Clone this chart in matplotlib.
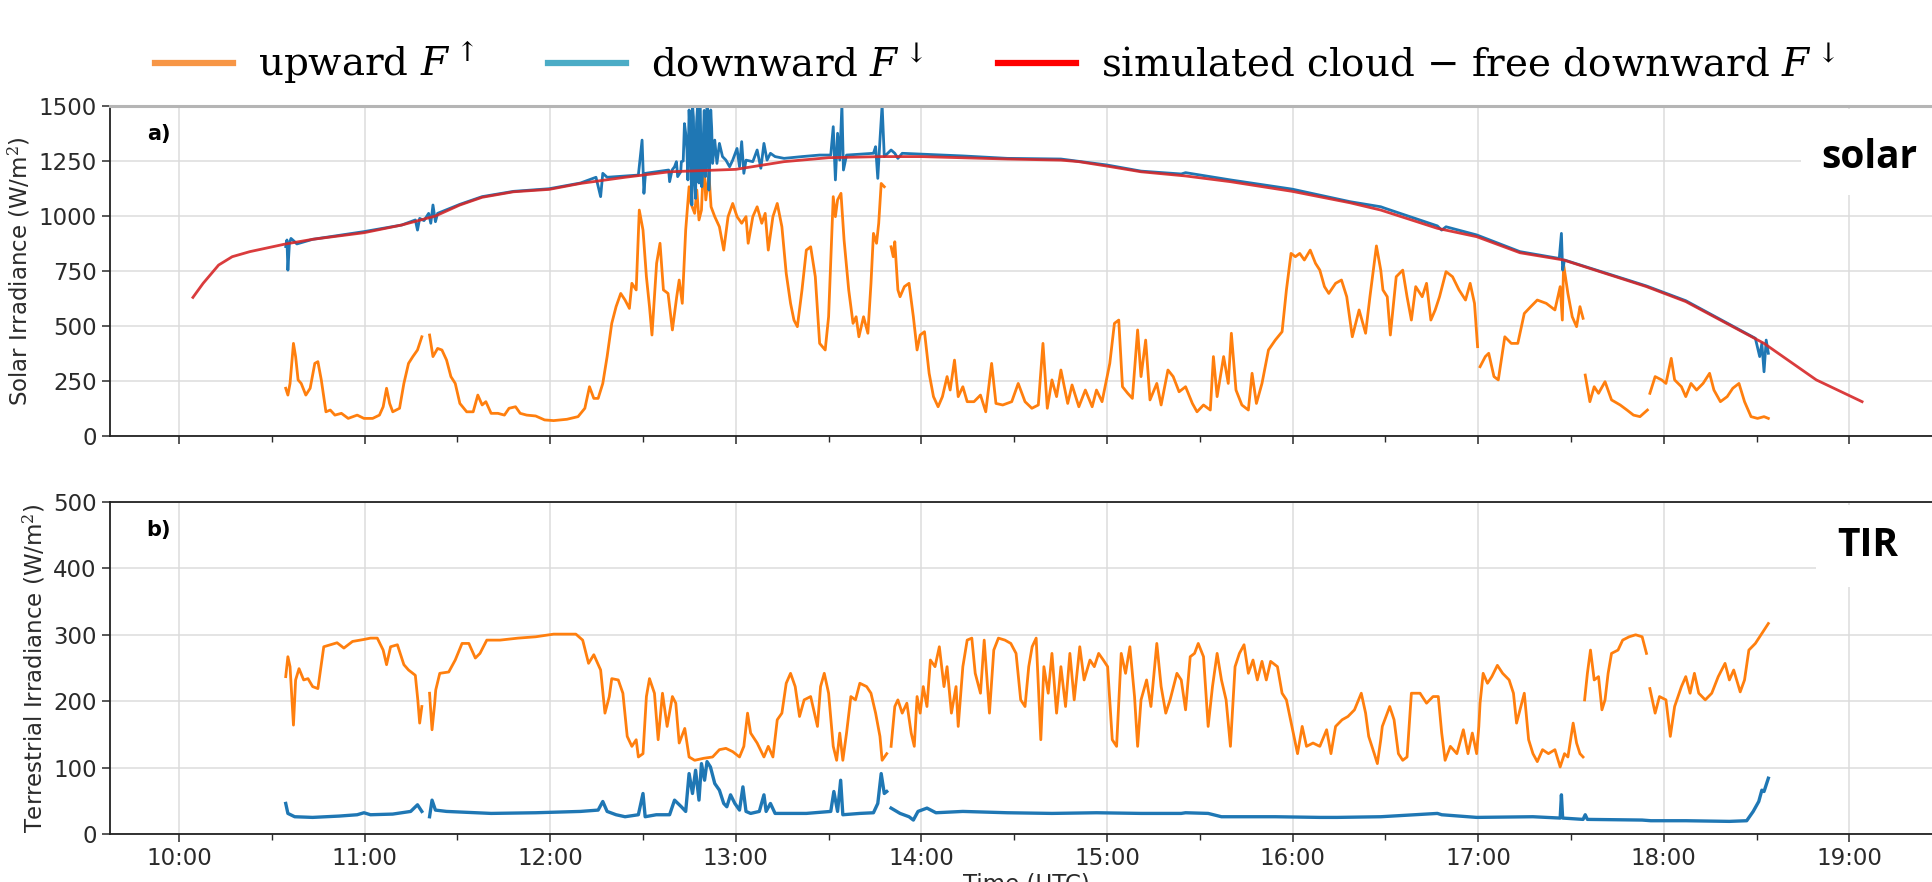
import numpy as np
import matplotlib

matplotlib.use("Agg")
import matplotlib.pyplot as plt
from matplotlib.lines import Line2D
from matplotlib.patches import Rectangle
from matplotlib.ticker import FixedLocator, FuncFormatter

nan = np.nan

# (minutes after 10:00 UTC, W/m^2); nan marks a gap in the record
sw_clear = [(4.5, 630), (7.8, 694), (12.8, 777), (17.2, 815), (22.9, 838), (34.5, 873), (43.2, 894),
            (59.8, 924), (72.0, 959), (82.9, 1000), (90.8, 1050), (98.0, 1085), (108.1, 1110),
            (119.7, 1121), (129.8, 1148), (144.2, 1176), (158.6, 1201), (180.0, 1212), (195.6, 1247),
            (210.0, 1265), (227.3, 1270), (240.0, 1270), (267.8, 1259), (285.1, 1254), (290.9, 1247),
            (299.9, 1227), (311.0, 1201), (325.4, 1182), (339.9, 1156), (359.9, 1112), (378.6, 1060),
            (388.5, 1027), (406.8, 944), (419.5, 906), (433.5, 833), (447.6, 800), (474.4, 679),
            (487.1, 611), (512.4, 421), (529.3, 255), (544.1, 156)]

sw_down = [(34.5, 861), (34.9, 891), (35.2, 754), (35.7, 876), (36.2, 898), (37.4, 883), (38.1, 873),
           (43.2, 894), (59.8, 929), (72.0, 959), (76.4, 982), (77.1, 936), (77.8, 989), (79.2, 979),
           (80.7, 1012), (81.4, 967), (82.1, 1050), (82.9, 974), (83.6, 1012), (90.8, 1053), (98.0, 1088),
           (108.1, 1112), (119.7, 1124), (129.8, 1150), (134.8, 1176), (136.3, 1088), (137.0, 1194),
           (138.4, 1176), (144.2, 1182), (148.5, 1186), (149.7, 1345), (150.3, 1103), (150.8, 1194),
           (154.3, 1201), (158.3, 1209), (158.6, 1156), (159.4, 1209), (160.2, 1224), (160.8, 1247),
           (161.2, 1179), (162.2, 1201), (162.4, 1247), (163.0, 1250), (163.4, 1420), (163.8, 1376),
           (164.2, 1300), (164.5, 1164), (164.9, 1482), (165.2, 1380), (165.5, 1209), (165.8, 1050),
           (166.0, 1504), (166.3, 1450), (166.7, 1148), (167.0, 1080), (167.3, 1421), (167.6, 1490),
           (167.8, 1239), (168.1, 1150), (168.4, 1504), (168.7, 1350), (169.0, 1133), (169.3, 1200),
           (169.6, 1406), (169.8, 1480), (170.2, 1179), (170.5, 1300), (170.7, 1504), (171.0, 1450),
           (171.3, 1118), (171.6, 1250), (171.9, 1482), (172.2, 1400), (172.5, 1239), (173.2, 1345),
           (173.9, 1239), (174.7, 1330), (175.7, 1270), (176.8, 1254), (178.0, 1224), (179.0, 1254),
           (180.4, 1307), (181.2, 1224), (181.9, 1338), (182.6, 1194), (183.3, 1254), (185.5, 1247),
           (186.9, 1300), (188.1, 1217), (189.1, 1330), (190.1, 1254), (191.2, 1285), (192.7, 1270),
           (195.6, 1262), (201.4, 1270), (207.1, 1277), (210.7, 1277), (211.5, 1406), (212.2, 1164),
           (212.9, 1376), (213.6, 1254), (214.3, 1504), (214.8, 1209), (215.8, 1277), (224.5, 1285),
           (225.2, 1315), (225.9, 1171), (226.6, 1345), (227.3, 1504), (228.0, 1270), (230.2, 1300),
           (231.4, 1285), (232.4, 1262), (233.8, 1285), (238.9, 1282), (253.4, 1273), (267.8, 1262),
           (285.1, 1259), (299.9, 1232), (311.0, 1204), (324.0, 1191), (325.4, 1197), (339.9, 1164),
           (359.9, 1122), (378.6, 1065), (388.5, 1042), (389.9, 1035), (406.8, 955), (408.2, 936),
           (409.6, 951), (419.5, 914), (433.5, 838), (446.2, 807), (446.9, 921), (447.3, 754),
           (447.9, 800), (474.4, 682), (487.1, 615), (509.6, 444), (511.0, 361), (511.7, 421),
           (512.4, 292), (513.1, 436), (513.8, 376)]

sw_up = [(34.5, 217), (35.2, 186), (35.9, 239), (37.0, 421), (37.7, 361), (38.5, 255), (39.5, 239),
         (41.0, 186), (42.4, 217), (43.9, 330), (44.9, 338), (46.0, 255), (47.5, 110), (48.9, 118),
         (50.4, 95), (52.5, 103), (54.7, 80), (57.6, 95), (59.8, 80), (62.6, 80), (64.8, 95), (66.0, 133),
         (67.1, 217), (68.1, 148), (69.1, 110), (71.3, 126), (72.7, 239), (74.2, 330), (75.6, 361),
         (77.1, 391), (78.5, 451), (79.8, nan), (81.0, 459), (82.1, 361), (83.6, 398), (85.0, 391),
         (86.5, 345), (87.9, 270), (89.3, 239), (90.8, 148), (93.0, 110), (95.1, 110), (96.6, 186),
         (98.0, 141), (99.2, 156), (100.9, 103), (103.1, 103), (105.2, 95), (106.7, 126), (108.8, 133),
         (110.3, 103), (112.4, 95), (115.3, 91), (118.2, 73), (121.1, 70), (125.4, 76), (129.0, 88),
         (131.2, 126), (132.7, 224), (134.1, 171), (135.5, 171), (137.0, 239), (138.4, 361), (139.9, 512),
         (141.3, 588), (142.8, 648), (144.2, 618), (145.6, 580), (146.4, 694), (147.8, 664), (148.8, 1027),
         (150.0, 936), (151.1, 724), (152.1, 588), (152.9, 459), (154.4, 785), (155.5, 876), (156.6, 664),
         (158.1, 648), (159.5, 482), (160.9, 633), (161.7, 709), (162.7, 603), (163.8, 936), (164.9, 1133),
         (165.5, 1057), (166.7, 1012), (167.4, 1118), (168.1, 982), (168.9, 1027), (169.6, 1254),
         (170.3, 1073), (171.3, 1194), (172.0, 1042), (173.2, 997), (174.7, 951), (176.1, 845),
         (177.5, 997), (179.0, 1057), (180.4, 997), (181.9, 967), (183.3, 997), (184.0, 876), (185.5, 997),
         (186.9, 1042), (188.4, 967), (189.5, 1012), (190.5, 845), (192.0, 997), (193.4, 1057), (194.9, 951),
         (196.3, 739), (197.7, 603), (198.8, 527), (199.9, 497), (201.4, 664), (202.8, 845), (204.2, 860),
         (205.7, 724), (207.1, 421), (208.9, 391), (210.0, 542), (211.5, 1088), (212.2, 997), (212.9, 1073),
         (214.0, 1103), (215.0, 891), (216.5, 664), (217.9, 512), (218.9, 542), (219.8, 451), (221.3, 542),
         (222.7, 467), (223.7, 694), (224.5, 921), (225.5, 876), (226.2, 967), (227.0, 1148), (228.0, 1133),
         (228.4, nan), (228.8, 1050), (229.5, nan), (230.2, 860), (230.9, 815), (231.4, 883), (232.4, 664),
         (233.1, 633), (234.5, 679), (236.0, 694), (237.4, 542), (238.6, 391), (239.6, 459), (241.0, 474),
         (242.5, 285), (243.9, 179), (245.4, 133), (246.8, 179), (248.3, 270), (249.3, 209), (250.7, 345),
         (251.9, 179), (253.4, 224), (254.8, 156), (257.0, 156), (259.1, 186), (260.8, 110), (262.7, 330),
         (264.1, 148), (266.3, 141), (269.2, 156), (271.3, 239), (273.5, 156), (275.7, 126), (277.8, 141),
         (279.3, 421), (280.7, 126), (282.2, 255), (283.7, 179), (285.1, 300), (287.3, 148), (288.7, 232),
         (290.9, 133), (293.0, 209), (295.2, 133), (296.6, 209), (298.4, 156), (300.9, 330), (302.4, 512),
         (303.8, 527), (305.0, 224), (306.7, 194), (308.2, 171), (309.9, 482), (311.0, 270), (312.5, 436),
         (313.9, 164), (316.1, 239), (317.5, 141), (319.7, 300), (321.4, 270), (323.3, 201), (325.4, 224),
         (327.6, 148), (329.1, 110), (331.2, 141), (333.4, 118), (334.4, 361), (335.6, 179), (337.7, 361),
         (339.2, 239), (340.2, 467), (341.7, 209), (343.6, 141), (345.7, 118), (346.9, 285), (348.3, 148),
         (350.1, 239), (352.2, 391), (354.4, 436), (356.6, 474), (358.0, 664), (359.5, 830), (360.9, 815),
         (362.3, 830), (363.8, 800), (365.7, 845), (367.4, 785), (368.8, 754), (370.3, 679), (371.7, 648),
         (373.9, 694), (375.8, 709), (377.5, 633), (379.3, 451), (381.5, 573), (383.6, 467), (385.0, 633),
         (387.1, 864), (388.5, 754), (389.2, 664), (390.6, 633), (391.6, 459), (393.5, 724), (395.6, 754),
         (397.0, 633), (398.4, 527), (399.8, 679), (401.9, 633), (403.3, 694), (404.7, 527), (406.1, 573),
         (407.5, 633), (409.6, 747), (411.7, 724), (413.8, 664), (415.9, 618), (417.4, 694), (418.8, 603),
         (419.8, 406), (420.2, nan), (420.6, 315), (422.3, 361), (423.4, 376), (425.1, 270), (426.5, 255),
         (428.6, 451), (430.7, 421), (432.8, 421), (434.9, 557), (437.0, 588), (439.1, 618), (442.0, 603),
         (444.8, 573), (446.5, 679), (447.2, 527), (447.6, 780), (449.0, 648), (450.4, 542), (451.8, 497),
         (452.9, 588), (453.9, 535), (454.2, nan), (454.6, 277), (456.1, 156), (457.5, 224), (458.9, 194),
         (461.0, 247), (463.1, 164), (465.9, 141), (468.1, 118), (470.2, 95), (472.3, 88), (474.7, 118),
         (475.1, nan), (475.5, 194), (477.2, 270), (479.3, 255), (480.7, 239), (482.4, 353), (483.5, 255),
         (485.7, 224), (487.1, 179), (488.8, 239), (490.6, 209), (492.7, 239), (494.8, 285), (496.2, 209),
         (498.3, 156), (500.5, 179), (502.3, 217), (504.3, 239), (506.1, 156), (508.2, 88), (510.3, 80),
         (512.4, 88), (513.8, 80)]

lw_down = [(34.5, 46), (35.2, 31), (37.4, 26), (43.2, 25), (51.8, 27), (57.6, 29), (59.8, 32), (61.9, 29),
           (69.1, 30), (74.9, 34), (77.1, 44), (78.5, 34), (79.8, nan), (81.0, 26), (81.8, 51), (82.9, 36),
           (86.5, 34), (100.9, 31), (115.3, 32), (129.8, 34), (135.5, 36), (137.0, 49), (138.4, 34),
           (141.3, 29), (144.2, 26), (148.5, 29), (150.0, 61), (150.7, 26), (154.3, 29), (158.6, 29),
           (160.2, 51), (162.4, 41), (163.8, 34), (164.9, 91), (166.0, 61), (167.0, 96), (168.1, 51),
           (168.9, 106), (169.9, 81), (170.7, 109), (171.8, 101), (173.2, 76), (174.7, 66), (176.1, 46),
           (177.1, 41), (178.3, 59), (179.7, 46), (181.2, 36), (182.3, 71), (183.3, 34), (184.8, 31),
           (187.6, 34), (189.1, 59), (189.8, 34), (191.2, 46), (192.7, 31), (202.8, 31), (210.7, 34),
           (211.7, 64), (212.9, 34), (213.9, 81), (214.6, 29), (220.1, 31), (224.5, 32), (225.9, 46),
           (227.0, 91), (228.0, 61), (228.8, 64), (229.5, nan), (230.2, 39), (233.1, 31), (236.0, 26),
           (237.4, 21), (238.9, 34), (241.8, 39), (244.7, 32), (253.4, 34), (267.8, 32), (282.2, 31),
           (296.6, 32), (311.0, 31), (324.0, 31), (325.4, 32), (332.7, 31), (337.0, 26), (354.4, 26),
           (368.8, 25), (374.4, 25), (388.5, 26), (406.8, 31), (408.2, 29), (419.5, 25), (437.7, 26),
           (446.5, 24), (446.9, 59), (447.3, 24), (453.9, 22), (454.6, 29), (455.3, 22), (473.0, 21),
           (475.8, 20), (487.1, 20), (501.2, 19), (506.8, 20), (508.9, 34), (510.7, 49), (511.7, 66),
           (512.4, 64), (513.8, 84)]

lw_up = [(34.5, 237), (35.2, 267), (35.9, 252), (37.0, 164), (37.7, 232), (38.8, 249), (40.3, 232),
         (41.7, 234), (43.2, 222), (44.9, 219), (46.8, 282), (48.9, 285), (51.1, 288), (53.3, 280),
         (56.1, 290), (59.8, 293), (61.9, 295), (64.1, 295), (66.0, 277), (67.1, 255), (68.4, 282),
         (70.6, 285), (72.7, 255), (74.2, 247), (76.4, 239), (77.2, 202), (77.8, 167), (78.5, 192),
         (79.8, nan), (81.0, 212), (81.8, 157), (82.6, 194), (83.0, 217), (84.3, 242), (87.2, 244),
         (89.3, 262), (91.5, 287), (93.7, 287), (95.8, 265), (97.3, 272), (99.5, 292), (103.8, 292),
         (109.6, 295), (115.3, 297), (121.1, 301), (128.3, 301), (130.5, 292), (132.4, 257), (134.1, 270),
         (136.3, 247), (137.7, 182), (139.1, 207), (139.9, 234), (142.0, 232), (143.5, 212), (144.9, 147),
         (146.4, 132), (147.8, 142), (148.5, 116), (150.0, 121), (151.1, 207), (152.1, 234), (153.7, 212),
         (154.9, 142), (156.3, 212), (157.8, 162), (159.5, 207), (160.6, 197), (161.7, 137), (163.5, 159),
         (164.9, 116), (166.7, 111), (169.6, 114), (172.5, 116), (174.7, 127), (176.8, 129), (179.0, 124),
         (181.2, 116), (182.6, 132), (183.8, 182), (184.8, 152), (186.9, 137), (189.1, 116), (190.5, 132),
         (192.0, 116), (193.4, 172), (194.9, 182), (196.3, 227), (197.7, 242), (199.2, 222), (200.6, 177),
         (202.1, 202), (204.2, 207), (206.4, 162), (207.4, 222), (208.6, 242), (210.0, 212), (211.5, 132),
         (212.6, 111), (213.6, 152), (214.6, 111), (215.8, 152), (217.2, 207), (218.7, 202), (220.1, 227),
         (222.3, 222), (223.7, 212), (225.2, 182), (226.6, 147), (227.3, 111), (228.8, 121), (229.5, nan),
         (230.2, 132), (231.4, 192), (232.4, 202), (233.8, 182), (235.3, 197), (236.7, 152), (237.7, 132),
         (238.6, 207), (239.6, 182), (240.6, 222), (241.8, 192), (242.9, 262), (244.4, 252), (245.8, 282),
         (247.3, 222), (248.3, 252), (249.7, 182), (251.2, 222), (251.9, 162), (253.4, 252), (254.8, 292),
         (256.3, 295), (257.4, 242), (259.1, 212), (260.3, 292), (262.0, 182), (263.4, 277), (264.9, 295),
         (267.0, 292), (268.9, 287), (270.6, 272), (272.1, 202), (273.5, 192), (274.7, 252), (275.8, 282),
         (277.1, 295), (278.6, 142), (279.6, 252), (281.0, 212), (282.2, 272), (283.7, 182), (285.1, 252),
         (286.6, 192), (288.0, 272), (289.4, 202), (291.2, 282), (292.6, 232), (294.5, 262), (295.9, 252),
         (297.3, 272), (298.8, 262), (300.2, 252), (301.7, 142), (303.1, 132), (304.6, 272), (306.0, 242),
         (307.4, 282), (308.9, 207), (309.9, 132), (311.0, 202), (312.8, 232), (314.2, 192), (316.1, 287),
         (317.5, 222), (319.0, 182), (320.4, 202), (322.6, 242), (324.0, 232), (325.4, 187), (326.9, 267),
         (328.3, 272), (329.5, 287), (331.2, 267), (332.7, 162), (334.1, 222), (335.6, 272), (337.0, 232),
         (338.5, 202), (339.9, 132), (341.4, 252), (342.8, 272), (344.3, 285), (345.7, 242), (347.2, 262),
         (348.6, 232), (350.1, 260), (351.5, 232), (352.9, 260), (355.1, 252), (356.6, 212), (358.0, 202),
         (360.2, 152), (361.6, 121), (363.1, 162), (364.5, 132), (366.6, 137), (368.8, 132), (371.0, 157),
         (372.4, 121), (373.9, 162), (376.0, 172), (377.9, 177), (380.0, 187), (382.2, 212), (383.6, 182),
         (384.6, 147), (386.4, 121), (387.4, 106), (388.5, 142), (389.0, 162), (391.4, 192), (392.8, 172),
         (394.2, 121), (395.6, 111), (397.0, 116), (398.4, 212), (401.2, 212), (403.3, 197), (405.4, 207),
         (407.1, 207), (408.2, 152), (409.3, 111), (411.0, 132), (413.1, 121), (415.2, 157), (416.7, 121),
         (418.1, 152), (419.5, 121), (420.2, 162), (420.6, 197), (421.6, 242), (423.0, 227), (424.4, 237),
         (426.2, 254), (427.9, 242), (430.0, 232), (431.4, 212), (432.4, 167), (433.5, 187), (434.9, 212),
         (436.3, 142), (437.7, 121), (439.1, 109), (440.8, 127), (442.7, 121), (444.8, 127), (446.5, 101),
         (447.9, 121), (449.0, 116), (450.7, 167), (451.8, 137), (452.9, 121), (453.9, 116), (454.2, nan),
         (454.4, 202), (455.3, 242), (456.3, 277), (457.5, 232), (458.9, 237), (460.0, 187), (461.0, 202),
         (462.0, 242), (463.1, 272), (465.2, 277), (466.7, 292), (468.8, 297), (470.9, 300), (473.0, 297),
         (474.4, 272), (475.1, nan), (475.5, 219), (477.2, 182), (478.6, 207), (480.7, 202), (482.1, 147),
         (483.5, 192), (485.7, 222), (487.1, 237), (488.5, 212), (489.9, 242), (491.3, 212), (493.4, 202),
         (495.5, 212), (497.6, 237), (499.8, 257), (501.2, 232), (502.6, 247), (504.7, 214), (506.1, 232),
         (507.5, 277), (509.6, 287), (511.7, 302), (513.8, 317)]

hours = np.arange(10, 20)
solar_ticks = np.arange(0, 1501, 250)
tir_ticks = np.arange(0, 501, 100)

C_UP = "#ff7f0e"
C_DOWN = "#1f77b4"
C_CLEAR = "#d62728"


def series(pairs):
    m, v = np.array(pairs, dtype=float).T
    return 10.0 + m / 60.0, v


plt.rcParams["mathtext.fontset"] = "dejavuserif"
W, H = 1933, 882
fig = plt.figure(figsize=(W / 100, H / 100), dpi=100)
left, width = 110 / W, 1832 / W
ax1 = fig.add_axes([left, 446 / H, width, 330 / H])
ax2 = fig.add_axes([left, 48 / H, width, 332 / H], sharex=ax1)

ax1.plot(*series(sw_up), color=C_UP, lw=2.0)
ax1.plot(*series(sw_down), color=C_DOWN, lw=2.0)
ax1.plot(*series(sw_clear), color=C_CLEAR, lw=2.0, alpha=0.9)
ax2.plot(*series(lw_up), color=C_UP, lw=2.0)
ax2.plot(*series(lw_down), color=C_DOWN, lw=2.4)

ax1.set_ylim(0, 1500)
ax1.set_yticks(solar_ticks)
ax2.set_ylim(0, 500)
ax2.set_yticks(tir_ticks)
ax1.set_xlim(10 + (110 - 179) / 185.6, 10 + (1942 - 179) / 185.6)
ax1.xaxis.set_major_locator(FixedLocator(hours))
ax1.xaxis.set_minor_locator(FixedLocator(hours[:-1] + 0.5))
ax2.xaxis.set_major_formatter(FuncFormatter(lambda x, _: f"{int(round(x)):02d}:00"))
ax1.tick_params(labelbottom=False)

for ax, lab, tag in ((ax1, "Solar Irradiance (W/m$^2$)", "a)"),
                     (ax2, "Terrestrial Irradiance (W/m$^2$)", "b)")):
    ax.grid(True, color="#dcdcdc", lw=1.1)
    ax.set_axisbelow(True)
    ax.tick_params(which="major", labelsize=16.5, length=6, width=1.1, colors="#2a2a2a")
    ax.tick_params(which="minor", length=4, width=1.0, colors="#2a2a2a")
    ax.set_ylabel(lab, fontsize=16.5, color="#2a2a2a")
    ax.spines["right"].set_visible(False)
    for s in ("left", "bottom", "top"):
        ax.spines[s].set_linewidth(1.3)
        ax.spines[s].set_color("#222222")
    ax.text(0.02, 0.915, tag, transform=ax.transAxes, fontsize=15, fontweight="bold",
            va="center", ha="left")
ax1.spines["top"].set_color("#b5b5b5")
ax1.spines["top"].set_linewidth(2.2)
ax2.set_xlabel("Time (UTC)", fontsize=16.5, color="#2a2a2a", labelpad=2)

# labels on white patches at the right edge of each panel
fig.add_artist(Rectangle((1801 / W, 1 - 195 / H), 132 / W, 86 / H, transform=fig.transFigure,
                         facecolor="white", edgecolor="none", zorder=2))
fig.add_artist(Rectangle((1816 / W, 1 - 587 / H), 117 / W, 82 / H, transform=fig.transFigure,
                         facecolor="white", edgecolor="none", zorder=2))
fig.text(1869 / W, 1 - 157 / H, "solar", fontsize=28, fontweight="bold", family="Open Sans",
         ha="center", va="center", zorder=3)
fig.text(1868 / W, 1 - 545 / H, "TIR", fontsize=28, fontweight="bold", family="Open Sans",
         ha="center", va="center", zorder=3)

handles = [Line2D([], [], color="#f79646", lw=4.5),
           Line2D([], [], color="#4bacc6", lw=4.5),
           Line2D([], [], color="#ff0000", lw=4.5)]
labels = [r"upward $F^{\uparrow}$", r"downward $F^{\downarrow}$",
          r"simulated cloud $-$ free downward $F^{\downarrow}$"]
fig.legend(handles, labels, loc="center", bbox_to_anchor=(0.515, 1 - 63 / H), ncol=3, frameon=False,
           prop={"family": "DejaVu Serif", "size": 28}, handlelength=2.0, handletextpad=0.65,
           columnspacing=1.9)

fig.savefig("out.png", dpi=100)
plt.close(fig)
